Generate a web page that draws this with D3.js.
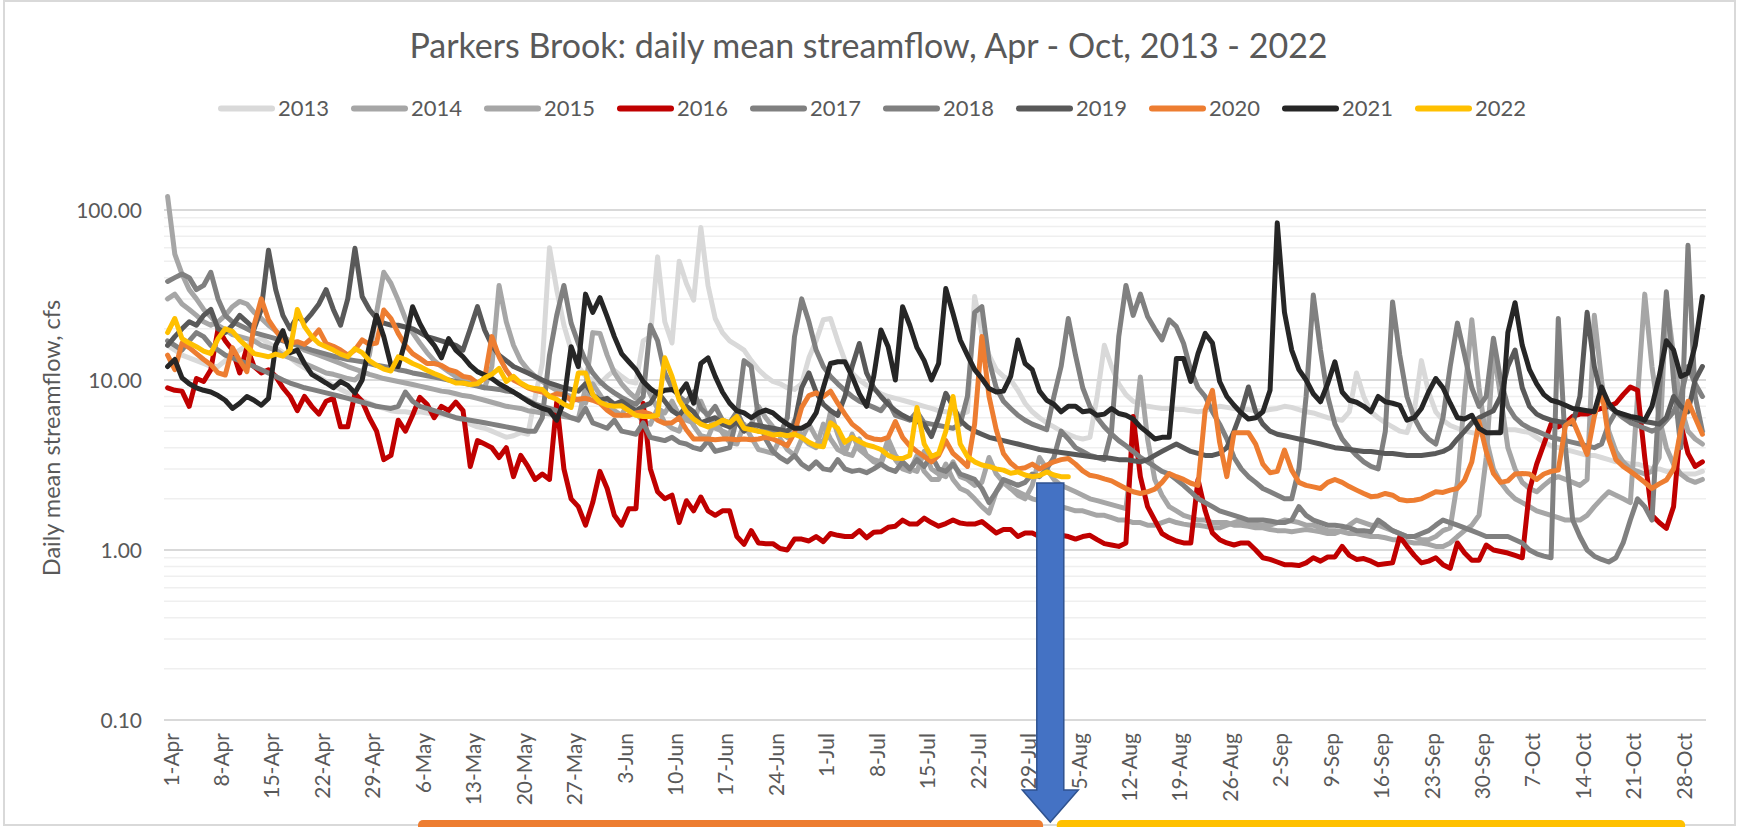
<!DOCTYPE html>
<html><head><meta charset="utf-8">
<script src="https://cdn.jsdelivr.net/npm/d3@7"></script>
<style>
html,body{margin:0;padding:0;background:#fff;}
svg{display:block;font-family:Lato,'Open Sans',sans-serif;}
</style>
</head><body>
<svg id="chart" width="1737" height="827"></svg>
<script>
// ---------------- DATA ----------------
const years = ["2013","2014","2015","2016","2017","2018","2019","2020","2021","2022"];
const colors = ["#D9D9D9","#A6A6A6","#A6A6A6","#C00000","#808080","#808080","#595959","#ED7D31","#262626","#FFC000"];
const yTicks = [0.1, 1, 10, 100];
const titleText = "Parkers Brook: daily mean streamflow, Apr - Oct, 2013 - 2022";
const yAxisTitle = "Daily mean streamflow, cfs";
const startDate = new Date(2021, 3, 1);   // 1-Apr
const nDays = 214;                        // 1-Apr .. 31-Oct
const labelEvery = 7;

const s2013 = [
16,15,14,13.5,13,12.5,12,
12,13,14,15,16,17,17.5,
16.5,15.5,14.5,13.5,12.5,11.8,11,
10.4,9.8,9.3,8.8,8.4,8.0,7.6,
7.3,7.0,6.8,6.6,6.5,6.5,6.4,
6.5,6.4,6.3,6.3,6.2,6.0,5.8,
5.5,5.3,5.2,5.0,4.8,4.6,4.7,
4.9,4.8,7.9,12.5,60,34,21,
15,12,10.5,10,9.5,10.5,11.4,
10.5,9.8,9.6,17,18,53,22,
16.5,50,37,29.5,79,36,23,
19,17,16,15,13,11.5,10.5,
9.8,9.5,9.0,8.8,9.5,13.5,17,
22.6,23,17,13,11,10,9.3,
8.8,8.3,8.0,7.8,7.6,7.4,7.2,
7.0,6.8,6.6,6.5,6.4,6.3,6.5,
31,19,14,11.5,10.5,10,8.7,
7.3,6.5,6.0,5.6,5.3,5.0,4.8,
4.6,4.5,4.6,8,16,12,9.5,
8.2,7.5,7.2,7.0,6.9,6.8,6.8,
6.7,6.7,6.6,6.5,6.6,6.8,7.0,
6.9,6.8,6.7,6.7,6.6,6.6,6.7,
6.8,7.0,6.9,6.7,6.5,6.4,6.2,
6.0,5.9,5.8,6.5,11,8,6.5,
6.0,5.6,5.3,5.0,4.9,6.5,13,
8.5,6.5,5.8,5.4,5.2,5.0,4.9,
4.8,4.8,4.9,5.0,5.1,5.1,5.0,
4.9,4.6,4.3,4.1,4.0,3.9,3.8,
3.7,3.6,3.6,3.5,3.4,3.3,3.3,
3.2,3.2,3.1,3.0,3.0,2.9,2.9,
2.8,2.8,2.8,2.9];

const s2014 = [
120,55,42,34,30,26,23.6,
21,19.7,18.5,18,17.5,17,16,
15.5,15,14,13.5,13,12.5,12,
11.5,11,10.8,10.5,10.2,10,11,
14,25,43,37,29.5,23,19,
16.5,14.5,13,12,11.2,10.5,10,
9.6,9.3,9.0,12,36,22,16,
13,11.5,10.5,9.8,9.2,8.7,8.3,
8.0,7.6,7.3,9.5,8.2,7.0,6.6,
6.2,7.5,6.4,5.7,5.5,6.8,5.6,
5.2,5.0,6.5,5.4,4.7,4.6,5.8,
4.9,4.3,4.2,5.5,4.6,3.9,3.8,
3.7,4.5,3.9,3.6,4.5,5.5,4.6,
4.2,6.5,4.8,3.7,3.6,4.5,3.6,
3.3,3.2,4.2,3.4,3.0,2.9,3.6,
2.9,2.6,2.6,3.2,2.6,2.3,2.2,
2.0,1.8,1.65,2.2,2.5,2.3,2.1,
2.0,2.4,3.5,3.0,2.6,2.4,2.3,
2.2,2.1,2.0,1.95,1.9,1.85,1.8,
1.75,4.2,10.4,4.5,2.6,2.1,1.8,
1.7,1.6,1.55,1.5,1.5,1.45,1.45,
1.45,1.4,1.4,1.38,1.35,1.35,1.32,
1.3,1.3,1.28,1.3,1.32,1.3,1.28,
1.25,1.25,1.3,1.4,1.5,1.45,1.4,
1.4,1.35,1.3,1.25,1.2,1.2,1.15,
1.15,1.2,1.3,1.35,2.5,8,22.6,
9,4.5,3.0,2.5,2.2,2.0,1.9,
1.8,1.7,1.65,1.6,1.55,1.5,1.5,
1.5,1.6,1.8,2.0,2.2,2.1,2.0,
1.9,8,32,12,6,4,3.2,
2.8,2.6,2.5,2.6];

const s2015 = [
30,32,28,26,24,22,21,
22,24,27,29,28,25,23,
21,19.5,18,17,16,15,14.5,
14,13.5,13,12.5,12,11.6,11.2,
10.8,10.5,10.2,10,9.8,9.6,9.4,
9.2,9.0,8.8,8.6,8.5,8.3,8.1,
8.0,7.8,7.6,7.4,7.2,7.0,6.9,
6.8,6.6,6.5,6.4,6.3,6.2,6.1,
6.0,5.9,9,19,18.8,14,11,
9.5,8.5,7.8,10,8.2,6.8,6.4,
7.5,6.2,5.8,5.6,7.5,6.0,5.2,
5.0,4.8,6.5,5.2,5.5,7,6,
5.3,4.9,4.6,5.8,4.6,4.2,4.0,
5.5,4.5,3.9,3.7,4.8,3.9,3.6,
3.4,3.3,4.5,3.6,3.2,3.0,2.9,
3.8,3.0,2.8,2.7,3.3,2.7,2.6,
2.4,2.5,3.5,2.8,2.5,2.3,2.2,
2.1,2.0,1.95,1.9,1.85,1.8,1.75,
1.7,1.7,1.65,1.6,1.6,1.55,1.5,
1.5,1.45,1.45,1.4,1.4,1.45,1.5,
1.45,1.42,1.4,1.4,1.38,1.35,1.35,
1.4,1.45,1.5,1.45,1.42,1.4,1.4,
1.45,1.5,1.48,1.45,1.4,1.4,1.35,
1.3,1.3,1.28,1.25,1.25,1.22,1.2,
1.2,1.18,1.15,1.15,1.12,1.1,1.1,
1.08,1.05,1.05,1.1,1.2,1.3,1.4,
1.6,3.5,15,8,4,3.0,2.5,
2.3,2.2,2.4,2.6,2.7,2.6,2.5,
2.4,2.6,24,10,5.0,3.8,3.3,
3.0,2.9,2.8,2.9,3.5,30,14,
7,5,4.5,4.2];

const s2016 = [
9.0,8.7,8.6,7.0,10.2,9.8,11.5,20,17,15,
11,15.5,12,11,11.5,10.5,9,8,6.6,8,
7,6.3,7.5,7.8,5.3,5.3,8.3,7.5,6,5,
3.4,3.6,5.8,5.0,6.2,7.9,7.2,6.0,7.0,6.6,
7.4,6.6,3.1,4.4,4.2,4.0,3.5,4.0,2.7,3.6,
3.1,2.6,2.8,2.6,7.4,3.0,2.0,1.8,1.4,1.9,
2.9,2.3,1.6,1.4,1.75,1.75,7.3,3.0,2.2,2.0,
2.1,1.45,1.95,1.7,2.05,1.7,1.6,1.7,1.7,1.2,
1.08,1.3,1.1,1.09,1.09,1.02,1.0,1.16,1.16,1.13,
1.2,1.12,1.25,1.22,1.2,1.2,1.3,1.18,1.27,1.28,
1.36,1.38,1.5,1.42,1.42,1.54,1.45,1.38,1.43,1.5,
1.44,1.42,1.42,1.47,1.36,1.26,1.32,1.32,1.2,1.26,
1.26,1.2,1.2,1.22,1.22,1.2,1.16,1.2,1.22,1.15,
1.09,1.07,1.05,1.1,6.1,2.7,1.8,1.5,1.25,1.18,
1.13,1.1,1.1,2.6,1.7,1.26,1.15,1.1,1.07,1.1,
1.1,1.0,0.9,0.88,0.85,0.82,0.82,0.81,0.84,0.9,
0.86,0.91,0.91,1.05,0.93,0.88,0.89,0.86,0.82,0.83,
0.84,1.2,1.05,0.93,0.84,0.86,0.9,0.82,0.78,1.1,
0.96,0.87,0.87,1.07,1.0,0.98,0.96,0.93,0.9,2.25,
3.2,4.2,5.5,5.3,5.6,6.1,6.3,6.3,6.6,6.8,
7.0,7.3,8.2,9.1,8.7,3.5,1.6,1.45,1.34,1.8,
5.5,3.7,3.1,3.3];

const s2017 = [
17,16,15,17,19,18,16,
15,14,13.5,13,12.5,12,11.5,
11,10.5,10,9.6,9.3,9.0,8.8,
8.6,8.4,8.2,8.0,7.8,7.6,7.4,
7.2,7.0,6.9,6.8,7.0,8.5,7.5,
7.0,6.8,6.6,6.4,6.2,6.0,5.9,
5.8,5.7,5.6,5.5,5.4,5.3,5.2,
5.1,5.0,5.0,6,14,24,36,
21.6,16.4,13,11,9.8,9.0,8.4,
7.9,7.5,7.2,8,21,17,11,
9,8,7.4,8.5,6.8,6.2,7.0,
5.8,5.6,6.5,5.3,5.2,5.0,5.0,
4.9,4.8,6,18,30,22,15,
12,10.5,9.5,8.7,8.0,7.5,7.2,
6.9,6.6,7.5,6.2,6.0,5.8,6.5,
5.6,5.5,5.4,5.3,5.2,5.5,8,
25,27,13,9,7.5,6.8,6.2,
5.8,5.5,5.3,5.1,8,12,23,
14,9,7,6,5.3,4.8,4.4,
4.1,3.8,3.5,3.3,3.1,2.9,2.8,
2.6,2.4,2.2,2.0,1.9,1.8,1.7,
1.65,1.6,1.55,1.5,1.5,1.5,1.48,
1.45,1.45,1.5,1.8,1.6,1.5,1.45,
1.4,1.4,1.38,1.35,1.3,1.3,1.28,
1.5,1.4,1.3,1.25,1.2,1.2,1.25,
1.3,1.4,1.5,1.45,1.4,1.35,1.3,
1.25,1.2,1.2,1.2,1.2,1.15,1.1,
1.0,0.95,0.92,0.9,23,4,1.5,
1.2,1.0,0.92,0.88,0.85,0.9,1.1,
1.5,2.0,1.8,1.5,8,33,10,
4,62,8,5];

const s2018 = [
38,40,42,40,34,36,43,
30,24,22,21,20,19,18.5,
18,17.5,17,16.5,16,15.5,15,
14.6,14.2,13.8,13.5,13.2,13,12.8,
12.5,12.2,12,11.8,11.5,11.3,11,
10.8,10.6,10.4,10.2,10,9.8,9.6,
9.4,9.2,9,8.9,8.8,8.6,8.5,
8.0,7.6,7.2,7.0,6.8,6.6,6.3,
6.0,5.8,6.8,5.6,5.4,5.2,5.8,
5.0,4.9,4.8,5.6,4.6,4.5,4.4,
4.6,4.3,4.2,4.0,3.9,4.4,3.8,
3.9,4.0,6,13,12,6,4.5,
3.8,3.5,3.3,3.6,3.2,3.0,3.3,
3.0,2.95,3.4,3.0,2.9,2.95,2.85,
3.0,3.2,3.0,2.9,3.3,3.0,3.4,
3.1,3.6,3.0,2.9,3.2,2.8,2.7,
2.6,2.3,1.9,2.2,2.6,2.5,2.4,
2.5,2.8,2.7,3.0,3.5,5,4.5,
4,3.8,3.6,3.5,3.4,5,18,
36,24,32,23.6,20,17.2,22.6,
20.6,16.4,11.4,9,8,6.5,5.5,
4.5,3.5,3.0,2.7,2.5,2.3,2.2,
2.1,2.0,2.0,3,8,31.6,15,
8,5.5,4.5,4.0,3.6,3.3,3.1,
3.0,5,28.8,14,8,6,5,
4.5,4.2,6,12,21.6,14,9,
7,8,17.6,10,7,6,5.5,
5.2,5.0,4.8,4.6,4.5,4.4,4.3,
4.2,4.1,4.0,4.2,5.5,6.5,6.0,
5.6,5.4,5.2,5.0,5.2,5.8,6.5,
8,12,9.5,8];

const s2019 = [
16,18,20,22,21,24,26,
20,19,21,24,22,20,26,
58,34,24,20,23.6,22,24.6,
28,34,26,21,30,59.5,31,
26,23,21.6,21,21,20.5,20,
19,18,17.5,17,16.5,16,15,
20,27,19.7,16,14,13,12,
11.5,11,10.5,10,9.6,9.3,9.0,
8.8,8.6,9.5,8.2,7.6,7.8,7.2,
7.5,7.0,6.6,7.0,7.3,8.5,7.5,
6.6,6.2,7.0,6.5,5.6,5.8,6.0,
5.5,5.3,5.7,5.0,5.5,5.4,5.3,
5.2,5.1,5.0,5.5,9,11,8.5,
7.2,6.6,6.2,8,12,16.4,11,
9,8,7.2,6.6,6.2,5.9,5.7,
5.5,4.65,6,8.35,7,5.8,5.3,
5.0,4.8,4.6,4.5,4.4,4.3,4.2,
4.1,4.0,3.9,3.85,3.8,3.75,3.7,
3.65,3.6,3.55,3.5,3.5,3.45,3.4,
3.4,3.35,3.3,3.4,3.6,3.8,4.0,
4.2,4.0,3.8,3.7,3.6,3.6,3.7,
4.0,5.0,6.5,9.1,6.5,5.5,5.0,
4.8,4.7,4.6,4.5,4.4,4.3,4.2,
4.1,4.0,3.95,3.9,3.85,3.8,3.8,
3.75,3.7,3.7,3.65,3.6,3.6,3.6,
3.65,3.7,3.8,4.0,4.5,5.0,5.6,
6.0,6.3,6.6,8,12,15,9,
7,6.3,6.0,5.8,5.7,5.6,5.5,
8,25,12,8,7,6.5,6.2,
6.0,5.8,5.7,5.6,5.5,6,8,
7,6.5,10,12];

const s2020 = [
14,11.5,16.5,15.5,14.3,13.2,12.3,11,10.7,15.5,
13,11.2,21,30,22.6,19.5,17.2,16.5,16.8,16.2,
17.6,19.7,16.4,15.8,15,14,15,17.2,16.2,16.5,
25.8,23,18.8,16,14.3,13.4,12.5,12.5,12.2,11.5,
11.2,10.5,10.3,9.6,10.2,18,13.7,11.4,10,9.5,
9.0,8.7,8.5,8.0,8.3,8.2,7.6,7.7,7.8,7.6,
7.3,6.65,6.2,6.2,6.2,6.4,6.5,6.3,5.8,5.56,
5.6,6.0,5.1,4.5,4.5,4.5,4.45,4.5,4.5,4.45,
4.5,4.45,4.5,4.6,4.5,4.3,4.1,4.9,6.9,8.1,
8.4,8.0,8.6,7.3,6.3,5.5,5.1,4.65,4.5,4.45,
4.6,5.7,4.6,4.1,3.8,3.55,3.3,3.6,4.4,3.7,
3.4,3.1,5.5,18,8.0,5.1,3.7,3.25,3.0,3.05,
3.2,3.0,3.15,3.3,3.4,3.45,3.2,2.92,2.75,2.7,
2.62,2.55,2.42,2.3,2.2,2.15,2.2,2.28,2.5,2.82,
2.7,2.6,2.47,2.4,6.65,8.7,4.3,2.7,4.9,4.9,
4.9,4.2,3.2,2.85,2.9,3.87,2.95,2.5,2.4,2.35,
2.3,2.5,2.6,2.5,2.36,2.25,2.15,2.06,2.08,2.15,
2.1,1.98,1.95,1.96,2.0,2.1,2.2,2.18,2.25,2.3,
2.58,3.3,5.7,3.8,2.82,2.5,2.55,2.8,2.82,2.8,
2.6,2.8,2.9,2.95,5.4,5.8,4.6,3.65,6.1,8.8,
4.5,3.4,3.1,2.9,2.7,2.5,2.3,2.45,2.58,3.0,
5.1,7.5,6.0,4.8];

const s2021 = [
12,13.2,10.3,9.5,9.0,8.7,8.5,8.1,7.6,6.8,
7.3,8.0,7.6,7.1,7.8,16,19.5,14.5,15,12.5,
10.8,10.2,9.6,9.0,9.8,9.3,8.4,10,16,24,
18,12.2,12,17,27,21.5,18,16,13.5,17.5,
15,13.7,12.2,11.2,10.7,10.2,9.5,9.0,8.5,8.0,
7.5,7.1,6.8,6.6,5.8,7.5,15.7,12,32,25,
30.5,23.6,18,14.3,12.8,11.5,9.8,8.9,8.3,8.7,
8.8,8.3,9.5,7.3,12.5,13.5,10.5,8.5,7.3,6.6,
6.4,6.0,6.4,6.65,6.4,5.9,5.5,5.2,5.2,5.5,
6.4,9.0,12.5,12.8,12.8,10.5,8.3,7.0,10.5,19.7,
15.7,10,27,21,15.5,13,10,12.5,34.5,24.6,
17.2,14,11.5,10.2,8.9,8.5,8.6,10.5,17.2,12.5,
11.5,8.6,7.6,7.2,6.5,7.0,7.0,6.5,6.6,6.2,
6.3,6.8,6.35,6.2,5.9,5.3,4.9,4.5,4.6,4.6,
13.4,13.4,9.8,14.3,18.8,16.5,9.8,8.0,7.1,6.4,
5.9,6.0,6.5,8.7,84,25,15,11.5,10,8.3,
7.45,9.5,12.8,8.5,7.6,7.4,7.0,6.5,8.0,7.45,
7.3,7.1,5.8,6.0,6.8,8.5,10.2,9.0,7.3,6.0,
5.9,6.2,5.2,4.9,4.9,4.9,19,28.5,16,11.5,
9.5,8.2,7.6,7.4,7.1,6.8,6.7,6.6,6.5,9.1,
7.3,6.5,6.3,6.1,6.0,5.8,7.0,10.5,17,15,
10.5,11,16,31];

const s2022 = [
19,23,17.5,16.5,15.7,14.8,14.3,17.5,20,19.3,
17.2,15.7,14.3,14,13.7,14.2,13.8,15,26,20.6,
18,16.4,15.7,15,14.2,13.7,15.3,14.5,13,12.2,
11.6,11.3,13.7,13.2,12.5,12,11.4,10.9,10.5,10,
9.6,9.6,9.4,9.5,10.3,10.8,11.7,9.8,10.5,9.6,
9.1,8.9,8.8,8.0,7.7,7.2,6.9,11,11,8.2,
7.4,7.1,7.0,7.05,6.6,6.2,6.1,6.1,6.2,13.5,
10.5,7.6,6.5,5.9,5.5,5.3,5.5,5.8,5.6,6.1,
5.2,5.1,5.0,4.9,4.75,4.8,4.7,4.8,4.6,4.3,
4.1,4.05,5.6,5.2,4.3,4.6,4.35,4.15,4.05,3.9,
3.6,3.46,3.45,3.6,6.9,4.2,3.55,3.7,5.0,8.0,
4.2,3.55,3.3,3.16,3.1,3.0,2.95,2.83,2.88,2.76,
2.7,2.74,2.88,2.76,2.7,2.7];

const seriesValues = [s2013,s2014,s2015,s2016,s2017,s2018,s2019,s2020,s2021,s2022];

// ---------------- CHART ----------------
const svg = d3.select("#chart");
const W = 1737, H = 827;
const textColor = "#595959";
const plot = {left:164, right:1706, top:210, bottom:720};

svg.append("rect").attr("width",W).attr("height",H).attr("fill","#fff");
svg.append("rect").attr("x",4).attr("y",1).attr("width",1731).attr("height",824)
  .attr("fill","none").attr("stroke","#D9D9D9").attr("stroke-width",2);

const days = d3.range(nDays);
const dates = days.map(i => d3.timeDay.offset(startDate, i));
const fmt = d3.timeFormat("%-d-%b");

const x = d3.scalePoint().domain(days).range([plot.left, plot.right]).padding(0.5);
const y = d3.scaleLog().domain([yTicks[0], yTicks[yTicks.length-1]]).range([plot.bottom, plot.top]);

// gridlines
const minor = [];
for (let d = 0; d < yTicks.length-1; d++) for (let k = 2; k <= 9; k++) minor.push(yTicks[d]*k);
svg.append("g").selectAll("line").data(minor).join("line")
  .attr("x1",plot.left).attr("x2",plot.right)
  .attr("y1",d=>y(d)).attr("y2",d=>y(d))
  .attr("stroke","#EFEFEF").attr("stroke-width",1.5);
svg.append("g").selectAll("line").data(yTicks).join("line")
  .attr("x1",plot.left).attr("x2",plot.right)
  .attr("y1",d=>y(d)).attr("y2",d=>y(d))
  .attr("stroke","#D9D9D9").attr("stroke-width",1.8);

// y axis labels
const yAxis = d3.axisLeft(y).tickValues(yTicks).tickFormat(d3.format(".2f")).tickSize(0).tickPadding(0);
const gy = svg.append("g").attr("transform",`translate(${plot.left-22},1)`).call(yAxis);
gy.select(".domain").remove();
gy.selectAll("text").attr("fill",textColor).style("font-size","21px").style("font-family","Lato");

// x axis labels
const xAxis = d3.axisBottom(x).tickValues(days.filter(i => i % labelEvery === 0))
  .tickFormat(i => fmt(dates[i])).tickSize(0);
const gx = svg.append("g").attr("transform",`translate(0,${plot.bottom})`).call(xAxis);
gx.select(".domain").remove();
gx.selectAll("text")
  .attr("fill",textColor).style("font-size","21px").style("font-family","Lato")
  .attr("text-anchor","end").attr("dy",null).attr("y",null)
  .attr("dominant-baseline","central")
  .attr("transform","translate(2,13) rotate(-90)");

// axis title
svg.append("text").attr("transform","translate(60,438) rotate(-90)")
  .attr("text-anchor","middle").attr("fill",textColor)
  .style("font-size","23.5px").text(yAxisTitle);

// title
svg.append("text").attr("x",W/2).attr("y",58).attr("text-anchor","middle")
  .attr("fill",textColor).style("font-size","34px").text(titleText);

// lines
const line = d3.line().x((d,i)=>x(i)).y(d=>y(d));
svg.append("g").selectAll("path").data(seriesValues).join("path")
  .attr("d",line).attr("fill","none")
  .attr("stroke",(d,i)=>colors[i]).attr("stroke-width",5)
  .attr("stroke-linejoin","round").attr("stroke-linecap","round");

// legend
const lg = svg.append("g").selectAll("g").data(years).join("g")
  .attr("transform",(d,i)=>`translate(${219+133*i},108.5)`);
lg.append("line").attr("x1",2).attr("x2",53).attr("stroke",(d,i)=>colors[i])
  .attr("stroke-width",6).attr("stroke-linecap","round");
lg.append("text").attr("x",59).attr("y",7.5).attr("fill",textColor)
  .style("font-size","22px").text(d=>d);

// annotation arrow (between 1-Aug and 2-Aug) and period bars
const step = x.step();
const ax = x(122) + step/2;
const shaftTop = plot.bottom - 237, headTop = plot.bottom + 70, tip = plot.bottom + 102;
svg.append("path")
  .attr("d",`M${ax-13.5},${shaftTop}H${ax+13.5}V${headTop}H${ax+28}L${ax},${tip}L${ax-28},${headTop}H${ax-13.5}Z`)
  .attr("fill","#4472C4").attr("stroke","#2F528F").attr("stroke-width",1.5);

const bars = [{from:34.75,to:121.5,color:"#ED7D31"},{from:123.4,to:210.6,color:"#FFC000"}];
svg.append("g").selectAll("rect").data(bars).join("rect")
  .attr("x",d=>x(0)+d.from*step).attr("width",d=>(d.to-d.from)*step)
  .attr("y",plot.bottom+100).attr("height",20).attr("rx",5)
  .attr("fill",d=>d.color);
</script>
</body></html>
